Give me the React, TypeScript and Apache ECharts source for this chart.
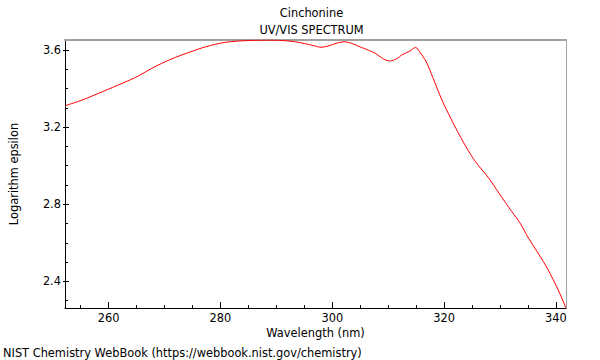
import React, { useEffect, useRef } from "react";
import * as echarts from "echarts";

const wavelength = [252.2, 255.3, 258.9, 262.4, 265.3, 267.7, 271.2, 274.4, 277.4, 280.9, 285.6, 289.7, 293.3, 296.8, 298.0, 302.1, 305.6, 307.7, 309.0, 310.3, 311.6, 312.4, 313.9, 314.9, 315.6, 316.8, 318.0, 319.6, 320.3, 322.1, 323.9, 325.6, 328.0, 329.8, 332.1, 333.6, 335.1, 336.8, 338.6, 340.4, 341.8];
const logEpsilon = [3.311, 3.341, 3.384, 3.427, 3.465, 3.505, 3.553, 3.588, 3.617, 3.640, 3.650, 3.651, 3.643, 3.622, 3.614, 3.643, 3.609, 3.583, 3.556, 3.543, 3.556, 3.574, 3.595, 3.614, 3.591, 3.539, 3.456, 3.341, 3.298, 3.194, 3.099, 3.021, 2.935, 2.858, 2.762, 2.702, 2.624, 2.547, 2.460, 2.356, 2.262];

const xMajorTicks = [260, 280, 300, 320, 340];
const xMinorTicks = [255, 265, 270, 275, 285, 290, 295, 305, 310, 315, 325, 330, 335];
const yMajorTicks = [2.4, 2.8, 3.2, 3.6];
const yMinorTicks = [2.3, 2.5, 2.6, 2.7, 2.9, 3.0, 3.1, 3.3, 3.4, 3.5];

const X_MIN = 252.2;
const X_MAX = 341.8;
const Y_MIN = 2.262;
const Y_MAX = 3.652;

const titleText = "Cinchonine";
const subtitleText = "UV/VIS SPECTRUM";
const xName = "Wavelength (nm)";
const yName = "Logarithm epsilon";
const footer = "NIST Chemistry WebBook (https://webbook.nist.gov/chemistry)";

const FONT = "DejaVu Sans";

export default function App() {
  const ref = useRef<HTMLDivElement>(null);
  useEffect(() => {
    if (!ref.current) return;
    const chart = echarts.init(ref.current, null, { renderer: "svg" });
    const hiddenX = { show: false };
    const baseX = { type: "value", min: X_MIN, max: X_MAX, splitLine: { show: false } };
    const baseY = { type: "value", min: Y_MIN, max: Y_MAX, splitLine: { show: false } };
    chart.setOption({
      animation: false,
      backgroundColor: "#fff",
      textStyle: { fontFamily: FONT },
      grid: { left: 57, top: 40, width: 509, height: 268, containLabel: false },
      xAxis: [
        {
          ...baseX,
          position: "bottom",
          name: xName,
          nameLocation: "middle",
          nameGap: 19,
          nameTextStyle: { color: "#000", fontSize: 11.4, fontFamily: FONT },
          axisLine: { show: true, onZero: false, lineStyle: { color: "#000", width: 1 } },
          axisTick: { show: true, inside: true, length: 6, customValues: xMajorTicks, lineStyle: { color: "#000" } },
          axisLabel: { show: true, customValues: xMajorTicks, margin: 4, color: "#000", fontSize: 11.4, fontFamily: FONT, formatter: (v: number) => String(Math.round(v)) },
        },
        {
          ...baseX,
          position: "bottom",
          axisLine: { show: false, onZero: false },
          axisTick: { show: true, inside: true, length: 3, customValues: xMinorTicks, lineStyle: { color: "#000" } },
          axisLabel: { show: false },
        },
        {
          ...baseX,
          position: "top",
          axisLine: { show: true, onZero: false, lineStyle: { color: "#a0a0a0", width: 2 } },
          axisTick: hiddenX,
          axisLabel: hiddenX,
        },
      ],
      yAxis: [
        {
          ...baseY,
          position: "left",
          name: yName,
          nameLocation: "middle",
          nameGap: 46,
          nameTextStyle: { color: "#000", fontSize: 11.4, fontFamily: FONT },
          axisLine: { show: true, onZero: false, lineStyle: { color: "#000", width: 1 } },
          axisTick: { show: true, inside: true, length: 4, customValues: yMajorTicks, lineStyle: { color: "#000" } },
          axisLabel: { show: true, customValues: yMajorTicks, margin: 4, color: "#000", fontSize: 11.4, fontFamily: FONT, formatter: (v: number) => v.toFixed(1) },
        },
        {
          ...baseY,
          position: "left",
          axisLine: { show: false, onZero: false },
          axisTick: { show: true, inside: false, length: 2, customValues: yMajorTicks, lineStyle: { color: "#000" } },
          axisLabel: { show: false },
        },
        {
          ...baseY,
          position: "left",
          axisLine: { show: false, onZero: false },
          axisTick: { show: true, inside: true, length: 3, customValues: yMinorTicks, lineStyle: { color: "#000" } },
          axisLabel: { show: false },
        },
        {
          ...baseY,
          position: "right",
          axisLine: { show: true, onZero: false, lineStyle: { color: "#a0a0a0", width: 1 } },
          axisTick: { show: false },
          axisLabel: { show: false },
        },
      ],
      graphic: [
        { type: "text", x: 311.5, y: 12.5, style: { text: titleText, fill: "#000", font: `11.4px "${FONT}"`, textAlign: "center", textVerticalAlign: "middle" } },
        { type: "text", x: 311.5, y: 29.5, style: { text: subtitleText, fill: "#000", font: `11.4px "${FONT}"`, textAlign: "center", textVerticalAlign: "middle" } },
        { type: "text", x: 3, y: 352.5, style: { text: footer, fill: "#000", font: `11.4px "${FONT}"`, textAlign: "left", textVerticalAlign: "middle" } },
      ],
      series: [
        {
          type: "line",
          xAxisIndex: 0,
          yAxisIndex: 0,
          data: wavelength.map((w, i) => [w, logEpsilon[i]]),
          showSymbol: false,
          smooth: 0.3,
          clip: true,
          lineStyle: { color: "#ff0000", width: 1 },
        },
      ],
    });
    return () => chart.dispose();
  }, []);
  return <div ref={ref} style={{ position: "fixed", left: 0, top: 0, width: 600, height: 360 }} />;
}
